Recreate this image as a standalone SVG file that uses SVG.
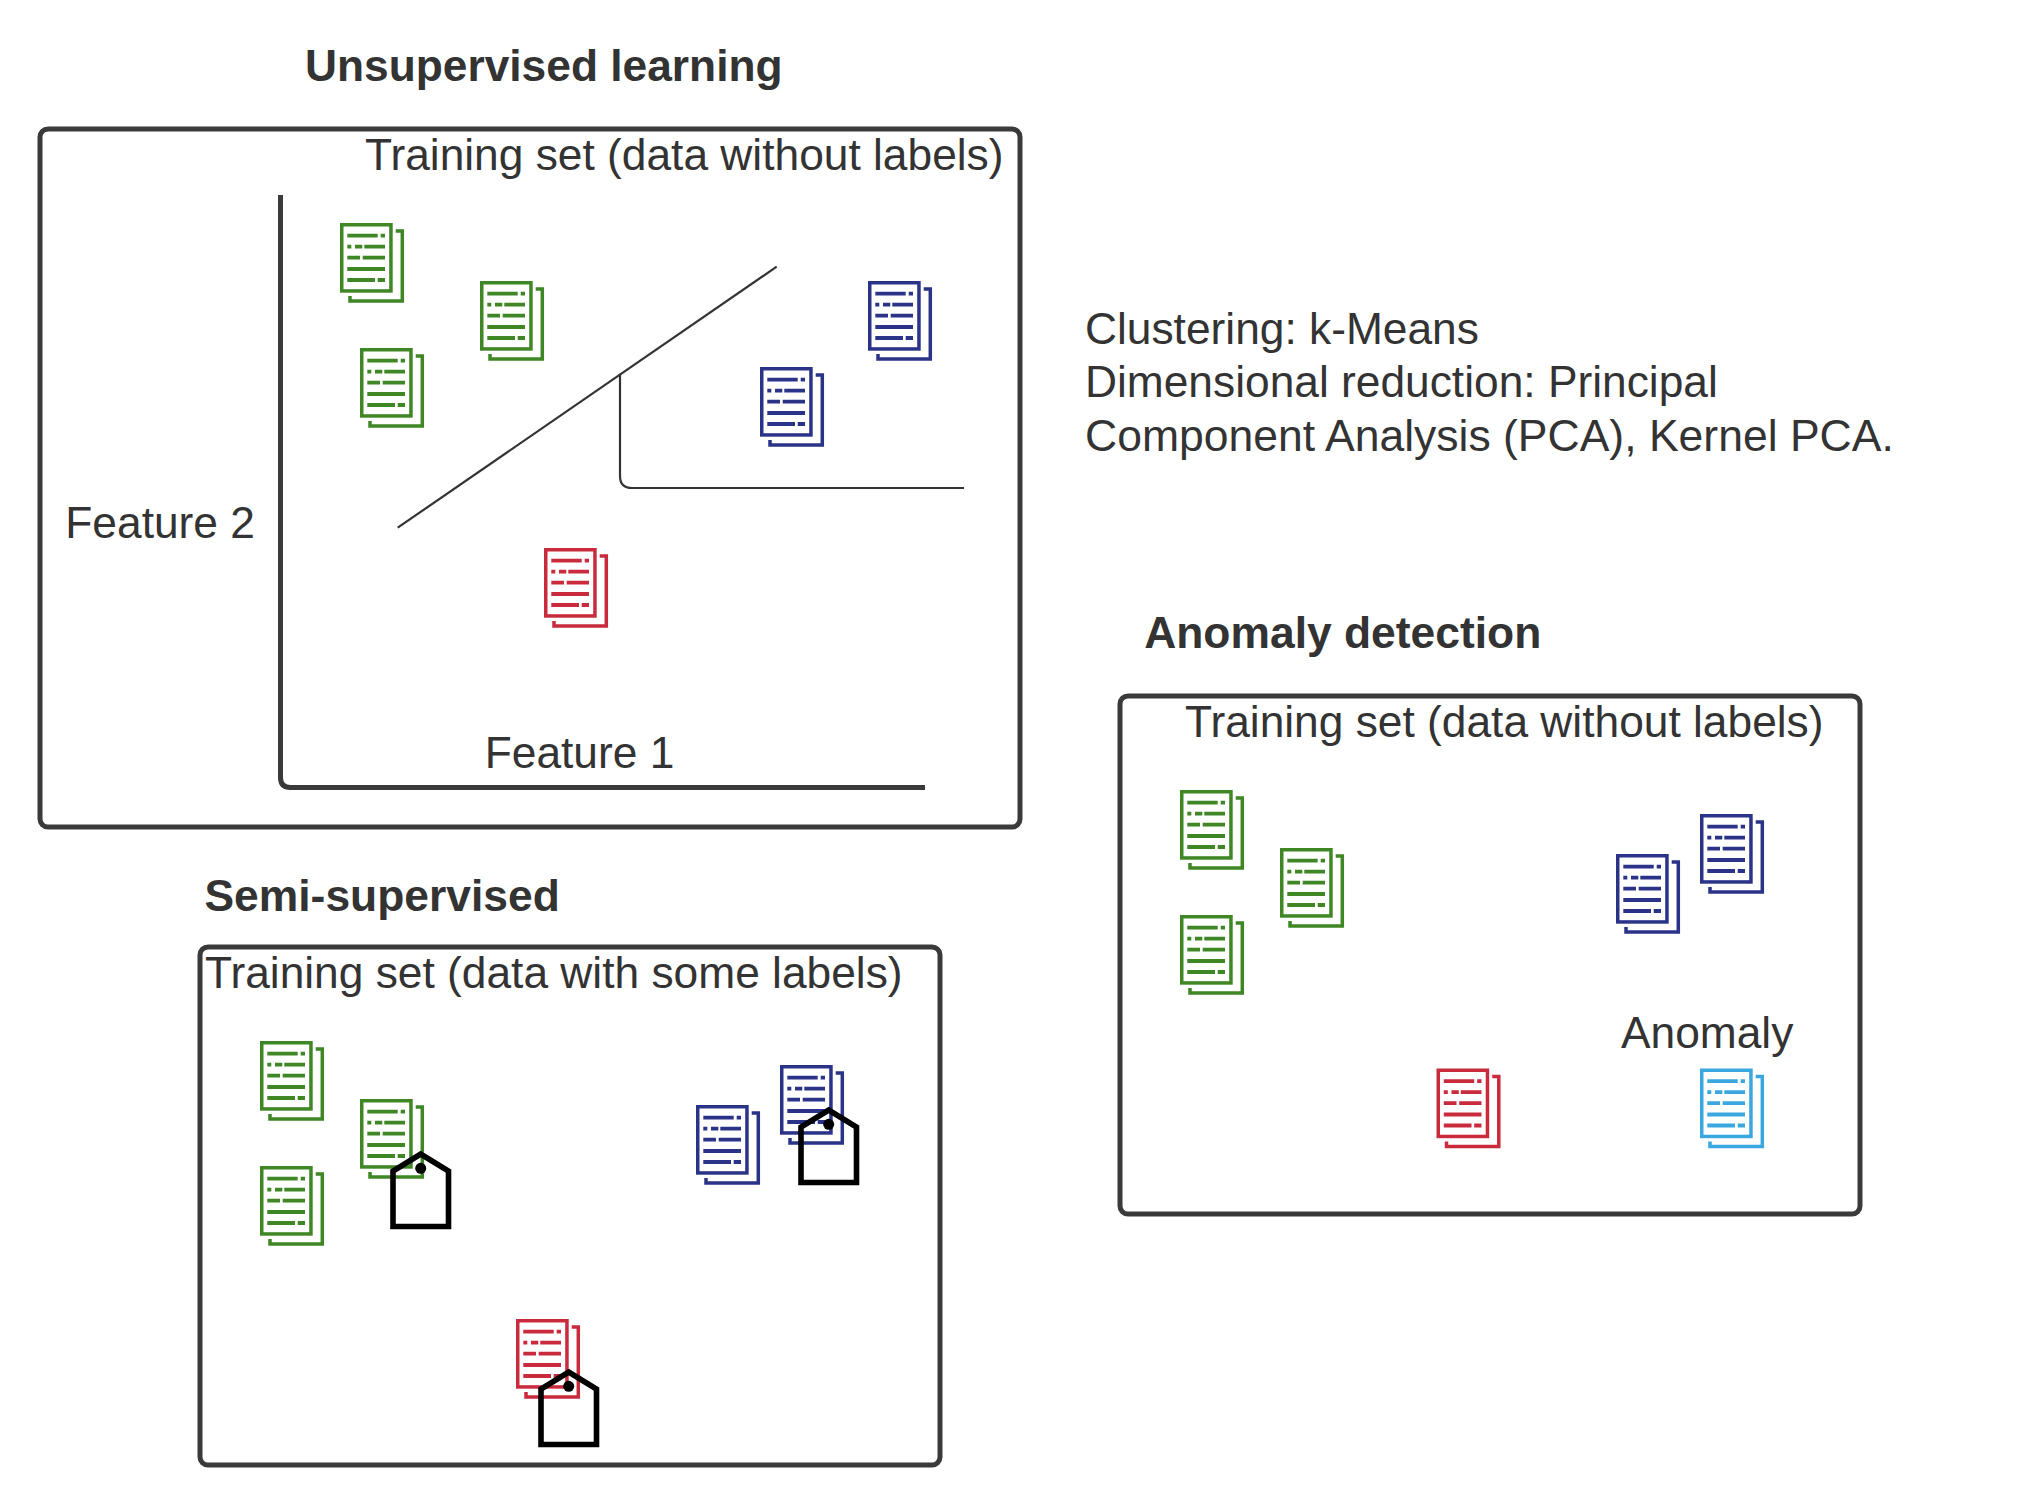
<svg xmlns="http://www.w3.org/2000/svg" width="2020" height="1505" viewBox="0 0 2020 1505">
<style>
text{font-family:"Liberation Sans",Arial,sans-serif;font-size:44.3px;fill:#333}
.b{font-weight:700;font-size:44.4px}
.frame{fill:none;stroke:#3a3a3a;stroke-width:5}
.axis{fill:none;stroke:#3a3a3a;stroke-width:5}
.thin{fill:none;stroke:#333;stroke-width:2.2}
.green{color:#3f8624}.blue{color:#2a3387}.red{color:#c92a3c}.cyan{color:#3ba7e0}
.tag{fill:none;stroke:#000;stroke-width:5.6}
</style>
<defs>
<g id="doc" fill="none" stroke="currentColor" stroke-width="3.5">
<rect x="1.75" y="1.75" width="49.2" height="66.2"/>
<path d="M55.7 8H62.3V78H10V73"/>
<path stroke-width="3.8" d="M7.3 12.7H37.7M40.7 12.7H45M7.3 23.7H11.3M15 23.7H22.3M24.3 23.7H45M7.3 34.7H20M22.7 34.7H45M7.3 46H45M7.3 57H35M37.7 57H45"/>
</g>
<g id="tag">
<path class="tag" d="M393 1226.5V1171L420.7 1154L448.5 1171V1226.5Z"/>
<circle cx="420.7" cy="1168.3" r="5.5"/>
</g>
</defs>
<rect width="2020" height="1505" fill="#fff"/>

<g id="connectors">
<path class="axis" d="M280.5 195V777.5Q280.5 787.5 290.5 787.5H925"/>
<path class="thin" d="M397.7 527.7L776.7 266.7"/>
<path class="thin" d="M620 373.7V476Q620 488 632 488H964"/>
</g>

<g id="unsupervised">
<text class="b" x="305" y="80.7" style="font-size:44.3px">Unsupervised learning</text>
<rect class="frame" x="40" y="129" width="980" height="698" rx="8"/>
<text x="365" y="170">Training set (data without labels)</text>
<text x="65.3" y="538.3">Feature 2</text>
<text x="484.7" y="768.3">Feature 1</text>
</g>
<g id="u-doc-1" class="green"><use href="#doc" x="340" y="223"/></g>
<g id="u-doc-2" class="green"><use href="#doc" x="480" y="281"/></g>
<g id="u-doc-3" class="green"><use href="#doc" x="360" y="348"/></g>
<g id="u-doc-4" class="blue"><use href="#doc" x="868" y="281"/></g>
<g id="u-doc-5" class="blue"><use href="#doc" x="760" y="367"/></g>
<g id="u-doc-6" class="red"><use href="#doc" x="544" y="548"/></g>

<g id="notes">
<text x="1085" y="344">Clustering: k-Means</text>
<text x="1085" y="396.5">Dimensional reduction: Principal</text>
<text x="1085" y="451" style="font-size:44.5px">Component Analysis (PCA), Kernel PCA.</text>
</g>

<g id="anomaly">
<text class="b" x="1144.2" y="648.3">Anomaly detection</text>
<rect class="frame" x="1120" y="696" width="740" height="518" rx="8"/>
<text x="1185" y="737">Training set (data without labels)</text>
<text x="1621" y="1048">Anomaly</text>
</g>
<g id="a-doc-1" class="green"><use href="#doc" x="1180" y="790"/></g>
<g id="a-doc-2" class="green"><use href="#doc" x="1280" y="848"/></g>
<g id="a-doc-3" class="green"><use href="#doc" x="1180" y="915"/></g>
<g id="a-doc-4" class="blue"><use href="#doc" x="1616" y="854"/></g>
<g id="a-doc-5" class="blue"><use href="#doc" x="1700" y="814"/></g>
<g id="a-doc-6" class="red"><use href="#doc" x="1436.5" y="1068.5"/></g>
<g id="a-doc-7" class="cyan"><use href="#doc" x="1700" y="1068.5"/></g>

<g id="semi">
<text class="b" x="204.5" y="910.7">Semi-supervised</text>
<rect class="frame" x="200" y="947" width="740" height="518" rx="8"/>
<text x="205" y="988">Training set (data with some labels)</text>
</g>
<g id="s-doc-1" class="green"><use href="#doc" x="260" y="1041"/></g>
<g id="s-doc-2" class="green"><use href="#doc" x="360" y="1099"/></g>
<g id="s-doc-3" class="green"><use href="#doc" x="260" y="1166"/></g>
<g id="s-doc-4" class="blue"><use href="#doc" x="696" y="1105"/></g>
<g id="s-doc-5" class="blue"><use href="#doc" x="780" y="1065"/></g>
<g id="s-doc-6" class="red"><use href="#doc" x="516" y="1319"/></g>
<g id="s-tag-1"><use href="#tag"/></g>
<g id="s-tag-2"><use href="#tag" x="408" y="-44"/></g>
<g id="s-tag-3"><use href="#tag" x="148" y="218"/></g>
</svg>
